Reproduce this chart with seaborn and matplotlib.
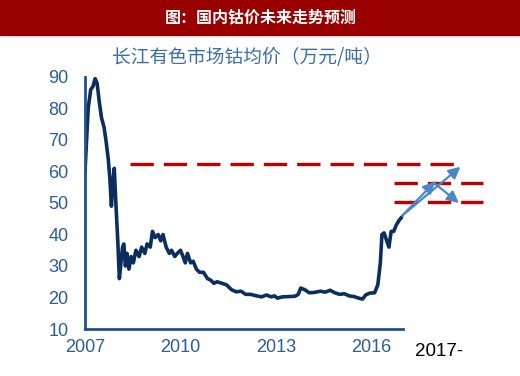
import matplotlib
matplotlib.use("Agg")
import matplotlib.pyplot as plt
import seaborn as sns
import pandas as pd

years = [2007.00, 2007.05, 2007.10, 2007.18, 2007.25, 2007.32, 2007.38, 2007.45, 2007.52, 2007.60,
         2007.67, 2007.73, 2007.78, 2007.83, 2007.87, 2007.92, 2007.96, 2008.03, 2008.08, 2008.12,
         2008.18, 2008.22, 2008.27, 2008.32, 2008.38, 2008.45, 2008.52, 2008.60, 2008.70, 2008.78,
         2008.88, 2008.95, 2009.05, 2009.12, 2009.20, 2009.30, 2009.38, 2009.45, 2009.55, 2009.65,
         2009.72, 2009.82, 2009.90, 2010.00, 2010.08, 2010.15, 2010.22, 2010.32, 2010.40, 2010.50,
         2010.60, 2010.72, 2010.85, 2010.95, 2011.05, 2011.15, 2011.30, 2011.45, 2011.60, 2011.75,
         2011.90, 2012.05, 2012.20, 2012.40, 2012.55, 2012.70, 2012.85, 2012.95, 2013.05, 2013.20,
         2013.40, 2013.60, 2013.70, 2013.78, 2013.90, 2014.05, 2014.20, 2014.40, 2014.55, 2014.70,
         2014.85, 2015.00, 2015.15, 2015.30, 2015.45, 2015.60, 2015.72, 2015.82, 2015.95, 2016.10,
         2016.20, 2016.28, 2016.33, 2016.40, 2016.48, 2016.55, 2016.62, 2016.70, 2016.78, 2016.87,
         2016.95]
prices = [60, 70, 80, 86, 87, 89.5, 88, 82, 77, 74,
          69, 64, 58, 49, 56, 61, 52, 38, 26, 30,
          36, 37, 30, 34, 29, 33, 31, 35, 33, 36,
          34, 37, 36, 41, 39, 40, 38, 40, 36, 34,
          35, 33, 34, 35, 33, 31, 34, 31, 31.5, 29,
          28, 28, 26, 25.5, 24.5, 25, 24.5, 24, 22.5, 21.8,
          22, 21, 21, 20.5, 20.2, 20.8, 20.2, 20.5, 19.8, 20.2,
          20.3, 20.4, 21, 23, 22.5, 21.5, 21.6, 22, 21.7, 22.3,
          21.5, 21, 21.2, 20.5, 20.3, 19.8, 19.5, 20.8, 21.4, 21.5,
          24, 31, 40, 40.5, 38, 36, 41, 41, 43, 44.5,
          45.5]

# forecast reference levels (万元/吨) and their spans (years)
ref_levels = [62.5, 56.5, 50.3]
ref_starts = [2008.42, 2016.72, 2016.72]
ref_ends = [2018.75, 2019.5, 2019.5]

# forecast arrows: (start_year, start_value, end_year, end_value)
arrows = [(2016.97, 46.0, 2018.8, 61.5),
          (2016.97, 46.0, 2018.0, 56.8),
          (2017.95, 56.5, 2018.75, 50.0)]

x_ticks = [2007, 2010, 2013, 2016]
y_ticks = [10, 20, 30, 40, 50, 60, 70, 80, 90]

title = "长江有色市场钴均价（万元/吨）"
banner = "图：国内钴价未来走势预测"

sns.set_style("white")
plt.rcParams['font.family'] = ['Liberation Sans', 'Noto Sans CJK SC', 'DejaVu Sans']

fig = plt.figure(figsize=(5.2, 3.76), dpi=100)
ax = fig.add_axes([85/520, 47/376, (486-85)/520, 252/376])

df = pd.DataFrame({"year": years, "price": prices})
navy = "#0c2e5c"
tickblue = "#2b5c9c"
spineblue = "#1f4f8f"
sns.lineplot(data=df, x="year", y="price", ax=ax, color=navy, linewidth=2.6)

for lv, s, e in zip(ref_levels, ref_starts, ref_ends):
    ax.hlines(lv, s, e, colors="#c00000", linewidth=2.4, linestyles=(0, (7, 3)), zorder=3)

for sx, sy, ex, ey in arrows:
    ax.annotate("", xy=(ex, ey), xytext=(sx, sy),
                arrowprops=dict(arrowstyle="-|>,head_length=0.7,head_width=0.35",
                                color="#4a86c8", lw=1.6, shrinkA=0, shrinkB=0),
                zorder=4, annotation_clip=False)

ax.set_xlim(2007, 2019.6)
ax.set_ylim(10, 90)
ax.set_xticks(x_ticks)
ax.set_yticks(y_ticks)
ax.set_xlabel("")
ax.set_ylabel("")
for side in ["top", "right"]:
    ax.spines[side].set_visible(False)
for side in ["left", "bottom"]:
    ax.spines[side].set_color(spineblue)
    ax.spines[side].set_linewidth(2)
ax.spines["bottom"].set_bounds(2007, 2017)
ax.tick_params(axis="both", direction="in", colors=spineblue, labelcolor=tickblue,
               labelsize=13, width=1.5, length=5)
ax.tick_params(axis="y", pad=12)
ax.tick_params(axis="x", pad=7)
ax.patch.set_alpha(0)

# banner
fig.patches.append(plt.Rectangle((0, 1 - 35/376), 1, 35/376, transform=fig.transFigure,
                                 color="#990000", zorder=0))
fig.text(261/520, 1 - 17/376, banner, color="white", fontsize=11.5, fontweight="bold",
         ha="center", va="center", family=["Noto Sans CJK SC", "DejaVu Sans"])
fig.text(247/520, 1 - 58/376, title, color="#3a6ea5", fontsize=13.5,
         ha="center", va="center", family=["Noto Sans CJK SC", "DejaVu Sans"])
fig.text(415/520, 1 - 352/376, "2017-", color="black", fontsize=13.5,
         ha="left", va="center")

fig.savefig("out.png", dpi=100)
